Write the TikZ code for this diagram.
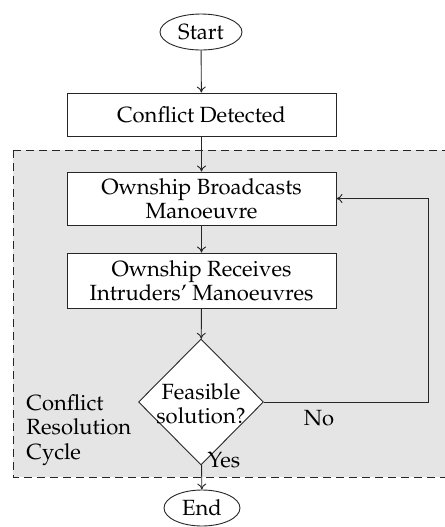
\documentclass[tikz,border=0pt]{standalone}
\usepackage[T1]{fontenc}
\usepackage{mathpazo}
\usetikzlibrary{shapes.geometric,arrows.meta}
\tikzset{
  procbox/.style={draw, fill=white, minimum width=134.5pt, align=center, inner sep=2pt},
  term/.style={draw, ellipse, fill=white, inner sep=0pt, minimum height=18pt},
  decbox/.style={draw, diamond, fill=white, minimum width=62.5pt, minimum height=63pt, inner sep=0pt},
  flow/.style={-{To[length=3pt,width=4.5pt]}},
  regionbox/.style={draw, dashed, dash pattern=on 4pt off 2.5pt, fill=gray!20}
}
\begin{document}
\begin{tikzpicture}[x=0.5pt,y=-0.5pt, line width=0.45pt, draw=black!85, font=\fontsize{11}{12.2}\selectfont]
\useasboundingbox (0,0) rectangle (445,527);
\fill[white] (0,0) rectangle (445,527);
\draw[regionbox] (13,150) rectangle (470,477);
\node[term, minimum width=41pt] (start) at (201,32) {Start};
\node[procbox, minimum height=21.5pt] (cd) at (201.5,114.5) {Conflict Detected};
\node[procbox, minimum height=26.5pt] (bc) at (201.5,198.5) {Ownship Broadcasts\\Manoeuvre};
\node[procbox, minimum height=27.5pt] (rc) at (201.5,280.5) {Ownship Receives\\Intruders' Manoeuvres};
\node[decbox] (dec) at (201,402) {};
\node[align=center, inner sep=0pt] (dectext) at (201,404) {Feasible\\solution?};
\node[term, minimum width=38pt] (end) at (202,508) {End};
\coordinate (corner1) at (428,402);
\coordinate (corner2) at (428,198.5);
\node[inner sep=0pt] (no) at (319,418) {No};
\node[inner sep=0pt] (yes) at (224,460) {Yes};
\node[align=left, anchor=west, inner sep=0pt] (crc) at (26,430) {Conflict\\Resolution\\Cycle};
\draw[flow] (start) -- (cd);
\draw[flow] (cd) -- (bc);
\draw[flow] (bc) -- (rc);
\draw[flow] (rc) -- (dec);
\draw[flow] (dec) -- (end);
\draw[flow] (dec.east) -- (corner1) -- (corner2) -- (bc.east);
\end{tikzpicture}
\end{document}
